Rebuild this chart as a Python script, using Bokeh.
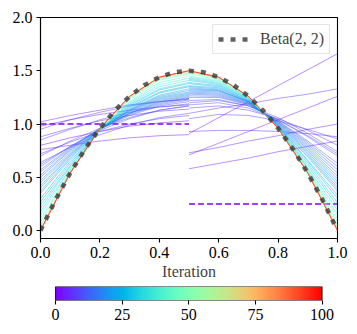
import math
import numpy as np
from bokeh.plotting import figure
from bokeh.layouts import column
from bokeh.models import (Range1d, FixedTicker, PrintfTickFormatter, LinearColorMapper,
                          Legend, LegendItem)
from bokeh.embed import file_html
from bokeh.resources import INLINE

# ---------------- data ----------------
beta_x = [0.0, 0.05, 0.1, 0.15, 0.2, 0.25, 0.3, 0.35, 0.4, 0.45, 0.5,
          0.55, 0.6, 0.65, 0.7, 0.75, 0.8, 0.85, 0.9, 0.95, 1.0]
beta_y = [0.0, 0.285, 0.54, 0.765, 0.96, 1.125, 1.26, 1.365, 1.44, 1.485, 1.5,
          1.485, 1.44, 1.365, 1.26, 1.125, 0.96, 0.765, 0.54, 0.285, 0.0]

init_left_x = [0.0, 0.5]
init_left_y = [1.0, 1.0]
init_right_x = [0.5, 1.0]
init_right_y = [0.25, 0.25]

left_x = [0.0, 0.1, 0.2, 0.3, 0.4, 0.5]
left_iters = [1, 2, 3, 4, 5, 6, 7, 8, 9, 10, 11, 12, 13, 14, 15, 16, 17, 18, 19, 20,
              21, 22, 24, 26, 28, 30, 33, 36, 40, 45, 50, 55, 60, 70, 80, 90, 100]
left_vals = [
    [0.80, 0.87, 0.93, 0.98, 1.01, 1.03],
    [0.76, 0.80, 0.84, 0.87, 0.89, 0.90],
    [0.98, 1.04, 1.09, 1.13, 1.16, 1.18],
    [1.02, 1.08, 1.13, 1.18, 1.21, 1.23],
    [0.88, 0.96, 1.03, 1.08, 1.12, 1.14],
    [0.72, 0.83, 0.93, 1.00, 1.05, 1.08],
    [0.95, 1.04, 1.11, 1.17, 1.21, 1.24],
    [0.85, 0.95, 1.04, 1.11, 1.16, 1.19],
    [0.64, 0.78, 0.90, 0.99, 1.06, 1.10],
    [0.70, 0.84, 0.96, 1.06, 1.13, 1.17],
    [0.62, 0.79, 0.94, 1.05, 1.13, 1.17],
    [0.60, 0.79, 0.95, 1.08, 1.17, 1.21],
    [0.57, 0.78, 0.955, 1.09, 1.18, 1.225],
    [0.55, 0.77, 0.96, 1.10, 1.19, 1.24],
    [0.52, 0.76, 0.955, 1.10, 1.20, 1.25],
    [0.50, 0.75, 0.95, 1.10, 1.21, 1.26],
    [0.47, 0.735, 0.95, 1.11, 1.22, 1.27],
    [0.45, 0.72, 0.95, 1.12, 1.23, 1.28],
    [0.42, 0.71, 0.95, 1.125, 1.24, 1.29],
    [0.40, 0.70, 0.95, 1.13, 1.25, 1.30],
    [0.37, 0.685, 0.95, 1.135, 1.26, 1.315],
    [0.35, 0.67, 0.95, 1.14, 1.27, 1.33],
    [0.30, 0.65, 0.95, 1.15, 1.29, 1.35],
    [0.27, 0.63, 0.95, 1.16, 1.30, 1.36],
    [0.24, 0.61, 0.95, 1.17, 1.32, 1.38],
    [0.21, 0.60, 0.95, 1.18, 1.33, 1.39],
    [0.18, 0.58, 0.95, 1.19, 1.35, 1.41],
    [0.15, 0.57, 0.95, 1.20, 1.37, 1.43],
    [0.11, 0.55, 0.95, 1.21, 1.39, 1.45],
    [0.08, 0.55, 0.95, 1.23, 1.41, 1.47],
    [0.05, 0.54, 0.96, 1.24, 1.42, 1.48],
    [0.03, 0.54, 0.96, 1.25, 1.43, 1.49],
    [0.02, 0.54, 0.96, 1.25, 1.43, 1.49],
    [0.01, 0.54, 0.96, 1.26, 1.44, 1.50],
    [0.00, 0.54, 0.96, 1.26, 1.44, 1.50],
    [0.00, 0.54, 0.96, 1.26, 1.44, 1.50],
    [0.00, 0.54, 0.96, 1.26, 1.44, 1.50],
]

right_x = [0.5, 0.6, 0.7, 0.8, 0.9, 1.0]
right_iters = [1, 2, 3, 4, 5, 6, 7, 8, 9, 10, 11, 12, 13, 14, 15, 16, 17, 18, 19, 20,
               21, 22, 24, 26, 28, 30, 33, 36, 40, 45, 50, 55, 60, 70, 80, 90, 100]
right_vals = [
    [0.91, 1.06, 1.21, 1.36, 1.51, 1.66],
    [0.71, 0.82, 0.93, 1.04, 1.15, 1.26],
    [0.58, 0.63, 0.68, 0.74, 0.79, 0.84],
    [0.73, 0.78, 0.84, 0.89, 0.95, 1.00],
    [0.93, 0.94, 0.94, 0.93, 0.91, 0.88],
    [1.10, 1.15, 1.19, 1.24, 1.28, 1.33],
    [1.15, 1.17, 1.13, 1.05, 0.94, 0.80],
    [1.05, 1.09, 1.08, 1.03, 0.95, 0.86],
    [1.20, 1.22, 1.17, 1.06, 0.91, 0.74],
    [1.22, 1.23, 1.17, 1.04, 0.88, 0.70],
    [1.18, 1.20, 1.15, 1.04, 0.89, 0.72],
    [1.25, 1.25, 1.18, 1.03, 0.84, 0.63],
    [1.265, 1.26, 1.185, 1.025, 0.825, 0.60],
    [1.28, 1.27, 1.19, 1.02, 0.81, 0.57],
    [1.29, 1.28, 1.195, 1.015, 0.795, 0.54],
    [1.30, 1.29, 1.20, 1.01, 0.78, 0.51],
    [1.31, 1.30, 1.205, 1.005, 0.765, 0.485],
    [1.32, 1.31, 1.21, 1.00, 0.75, 0.46],
    [1.33, 1.315, 1.21, 0.995, 0.735, 0.435],
    [1.34, 1.32, 1.21, 0.99, 0.72, 0.41],
    [1.35, 1.33, 1.215, 0.985, 0.705, 0.39],
    [1.36, 1.34, 1.22, 0.98, 0.69, 0.37],
    [1.38, 1.35, 1.22, 0.98, 0.66, 0.33],
    [1.39, 1.36, 1.23, 0.98, 0.65, 0.30],
    [1.41, 1.37, 1.23, 0.97, 0.63, 0.26],
    [1.42, 1.38, 1.24, 0.97, 0.61, 0.23],
    [1.43, 1.39, 1.24, 0.97, 0.59, 0.19],
    [1.44, 1.40, 1.25, 0.97, 0.58, 0.15],
    [1.45, 1.41, 1.25, 0.96, 0.57, 0.11],
    [1.47, 1.42, 1.25, 0.96, 0.56, 0.08],
    [1.48, 1.43, 1.26, 0.96, 0.55, 0.05],
    [1.49, 1.43, 1.26, 0.96, 0.55, 0.03],
    [1.49, 1.44, 1.26, 0.96, 0.54, 0.02],
    [1.50, 1.44, 1.26, 0.96, 0.54, 0.01],
    [1.50, 1.44, 1.26, 0.96, 0.54, 0.00],
    [1.50, 1.44, 1.26, 0.96, 0.54, 0.00],
    [1.50, 1.44, 1.26, 0.96, 0.54, 0.00],
]

x_ticks = [0.0, 0.2, 0.4, 0.6, 0.8, 1.0]
y_ticks = [0.0, 0.5, 1.0, 1.5, 2.0]
cb_ticks = [0, 25, 50, 75, 100]
n_iter = 100

# ---------------- style helpers ----------------
FONT = "Liberation Serif"
FS = "16px"


def rainbow(t):
    r = min(1.0, abs(2 * t - 0.5))
    g = math.sin(math.pi * t)
    b = math.cos(math.pi * t / 2)
    return "#%02x%02x%02x" % (int(round(r * 255)), int(round(g * 255)), int(round(max(b, 0) * 255)))


palette = [rainbow(i / 255) for i in range(256)]


def style_axis(ax):
    ax.axis_line_color = "black"
    ax.axis_line_width = 1.1
    ax.major_tick_out = 4
    ax.major_tick_in = 0
    ax.major_tick_line_width = 1.1
    ax.minor_tick_line_color = None
    ax.major_label_text_font = FONT
    ax.major_label_text_font_size = FS
    ax.major_label_text_color = "black"
    ax.major_label_standoff = 4


# ---------------- main figure ----------------
p = figure(width=357, height=281, output_backend="svg", toolbar_location=None,
           x_range=Range1d(0, 1), y_range=Range1d(-0.075, 2.0),
           min_border_left=40, min_border_right=20, min_border_top=17, min_border_bottom=10)
p.frame_width = 297
p.frame_height = 221
p.grid.visible = False
p.outline_line_color = "black"
p.outline_line_width = 1.1
p.background_fill_color = "white"
p.border_fill_color = "white"

style_axis(p.xaxis[0])
style_axis(p.yaxis[0])
p.xaxis.ticker = FixedTicker(ticks=x_ticks)
p.yaxis.ticker = FixedTicker(ticks=y_ticks)
p.xaxis.formatter = PrintfTickFormatter(format="%.1f")
p.yaxis.formatter = PrintfTickFormatter(format="%.1f")
p.xaxis.axis_label = "Iteration"
p.xaxis.axis_label_text_font = FONT
p.xaxis.axis_label_text_font_size = FS
p.xaxis.axis_label_text_font_style = "normal"
p.xaxis.axis_label_standoff = 2

c0 = rainbow(0.0)
p.line(init_left_x, init_left_y, color=c0, line_width=1.5, line_dash="6 3")
p.line(init_right_x, init_right_y, color=c0, line_width=1.5, line_dash="6 3")

for it, vals in zip(left_iters, left_vals):
    p.line(left_x, vals, color=rainbow(it / n_iter), line_width=0.8, line_alpha=0.6)
for it, vals in zip(right_iters, right_vals):
    p.line(right_x, vals, color=rainbow(it / n_iter), line_width=0.8, line_alpha=0.6)

beta_r = p.line(beta_x, beta_y, color="#3a3a3a", line_alpha=0.8, line_width=4.5, line_dash="5 7")

legend = Legend(items=[LegendItem(label="Beta(2, 2)", renderers=[beta_r])],
                location="top_right")
legend.label_text_font = FONT
legend.label_text_font_size = FS
legend.glyph_width = 30
legend.glyph_height = 18
legend.label_height = 18
legend.label_standoff = 12
legend.padding = 5
legend.margin = 7
legend.spacing = 0
legend.border_line_color = "#cccccc"
legend.border_line_width = 1.2
legend.background_fill_alpha = 0.85
p.add_layout(legend)

# ---------------- colorbar figure (frame aligned with main frame) ----------------
cb_low = -5.63
cb_high = 105.8
cb = figure(width=357, height=53, output_backend="svg", toolbar_location=None,
            x_range=Range1d(cb_low, cb_high), y_range=Range1d(0, 1),
            min_border_left=40, min_border_right=20, min_border_top=4, min_border_bottom=5)
cb.frame_width = 297
cb.frame_height = 14
cb.grid.visible = False
cb.yaxis.visible = False
cb.outline_line_color = None
cb.background_fill_color = "white"
grad = np.linspace(0, n_iter, 256).reshape(1, 256)
cb.image(image=[grad], x=0, y=0, dw=n_iter, dh=1,
         color_mapper=LinearColorMapper(palette=palette, low=0, high=n_iter))
cb.quad(left=[0], right=[n_iter], bottom=[0], top=[1], fill_color=None,
        line_color="#222222", line_width=1.1)
ax = cb.xaxis[0]
style_axis(ax)
ax.axis_line_color = None
ax.ticker = FixedTicker(ticks=cb_ticks)

layout = column(p, cb, spacing=0)
open("out.html", "w").write(file_html(layout, INLINE))
